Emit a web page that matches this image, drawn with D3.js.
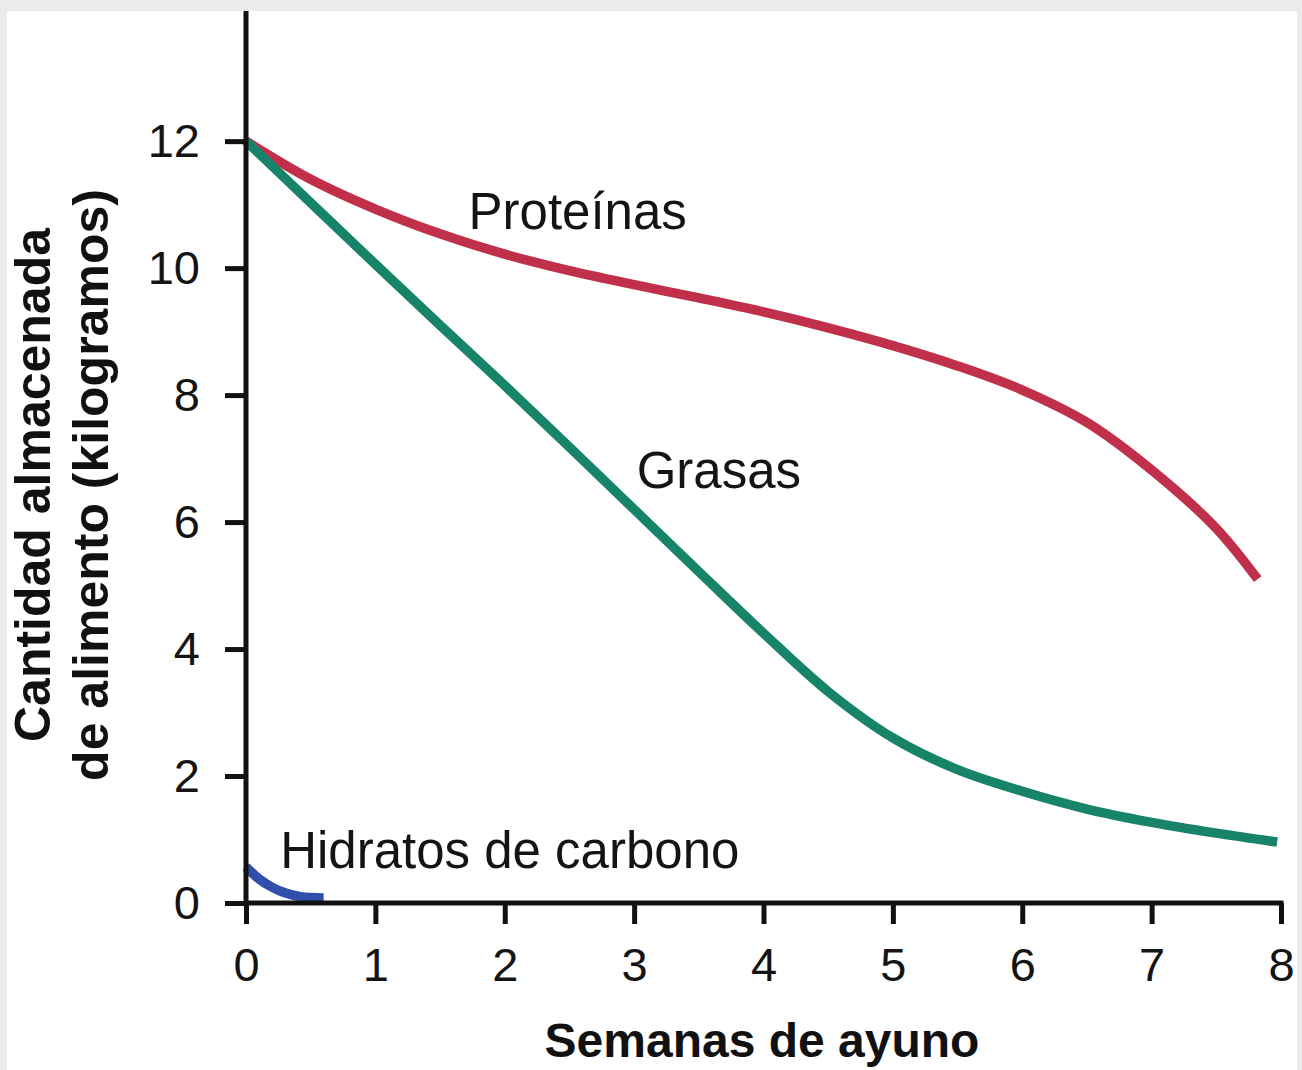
<!DOCTYPE html>
<html><head><meta charset="utf-8">
<script src="https://cdn.jsdelivr.net/npm/d3@7"></script>
<style>
html,body{margin:0;padding:0;background:#ebebeb;}
svg{display:block;font-family:"Liberation Sans",Arial,Helvetica,sans-serif;}
</style></head><body>
<svg id="c" width="1302" height="1070"></svg>
<script>
const xTicks = [0,1,2,3,4,5,6,7,8];
const yTicks = [0,2,4,6,8,10,12];
const proteinWeeks = [0,0.5,1,1.5,2,2.5,3,3.5,4,4.5,5,5.5,6,6.5,7,7.5,7.82];
const proteinKg    = [12,11.4,10.93,10.54,10.22,9.96,9.74,9.53,9.31,9.06,8.78,8.46,8.08,7.57,6.82,5.9,5.1];
const fatWeeks = [0,0.5,1,1.5,2,2.5,3,3.5,4,4.5,5,5.5,6,6.5,7,7.5,7.97];
const fatKg    = [12,11.03,10.06,9.1,8.15,7.18,6.2,5.22,4.25,3.33,2.6,2.1,1.76,1.48,1.27,1.1,0.96];
const carbWeeks = [0,0.1,0.2,0.3,0.42,0.6];
const carbKg    = [0.57,0.38,0.25,0.16,0.1,0.08];
const labels = ["Proteínas","Grasas","Hidratos de carbono"];
const xTitle = "Semanas de ayuno";
const yTitle = ["Cantidad almacenada","de alimento (kilogramos)"];

const svg = d3.select("#c");
svg.append("rect").attr("x",7).attr("y",11).attr("width",1290).attr("height",1059).attr("fill","#fff");

const x = d3.scaleLinear().domain([0,8]).range([246,1281]);
const y = d3.scaleLinear().domain([0,14.05]).range([903,11]);

const line = d3.line().x(d=>x(d[0])).y(d=>y(d[1])).curve(d3.curveCatmullRom.alpha(0.5));
const series = [
  {w:proteinWeeks,v:proteinKg,c:"#c1304a"},
  {w:fatWeeks,v:fatKg,c:"#17846a"},
  {w:carbWeeks,v:carbKg,c:"#2f4fab"}
];
series.forEach(s=>{
  svg.append("path").datum(d3.zip(s.w,s.v)).attr("d",line)
    .attr("fill","none").attr("stroke",s.c).attr("stroke-width",9.5).attr("stroke-linecap","butt");
});

// axes
const gx = svg.append("g").attr("transform",`translate(0,${y(0)})`)
  .call(d3.axisBottom(x).tickValues(xTicks).tickFormat(d3.format("d")).tickSize(21).tickSizeOuter(0).tickPadding(24));
const gy = svg.append("g").attr("transform",`translate(${x(0)},0)`)
  .call(d3.axisLeft(y).tickValues(yTicks).tickFormat(d3.format("d")).tickSize(21).tickSizeOuter(0).tickPadding(25));
[gx,gy].forEach(g=>{
  g.selectAll("path.domain").attr("stroke","#111").attr("stroke-width",5);
  g.selectAll(".tick line").attr("stroke","#111").attr("stroke-width",5);
  g.selectAll(".tick text").attr("fill","#141414").style("font-size","47px").style("font-family","'Liberation Sans',Arial,sans-serif");
});
gx.select("path.domain").attr("d",`M${x(0)-2},0H${x(8)+2.5}`);
gy.select("path.domain").attr("d",`M0,${y(0)+2.5}V${y(14.05)}`);

// series labels
const lab = svg.append("g").attr("fill","#141414").style("font-size","51px");
lab.append("text").attr("x",x(1.72)).attr("y",y(10.61)).text(labels[0]);
lab.append("text").attr("x",x(3.02)).attr("y",y(6.537)).text(labels[1]);
lab.append("text").attr("x",x(0.264)).attr("y",y(0.551)).text(labels[2]);

// axis titles
svg.append("text").attr("x",762).attr("y",1057).attr("text-anchor","middle")
  .style("font-size","48px").style("font-weight","bold").attr("fill","#111").text(xTitle);
const yt = svg.append("g").attr("transform","translate(0,485) rotate(-90)");
yt.append("text").attr("x",0).attr("y",50).attr("text-anchor","middle")
  .style("font-size","50px").style("font-weight","bold").attr("fill","#111").text(yTitle[0]);
yt.append("text").attr("x",0).attr("y",108).attr("text-anchor","middle")
  .style("font-size","50px").style("font-weight","bold").attr("fill","#111").text(yTitle[1]);
</script>
</body></html>
